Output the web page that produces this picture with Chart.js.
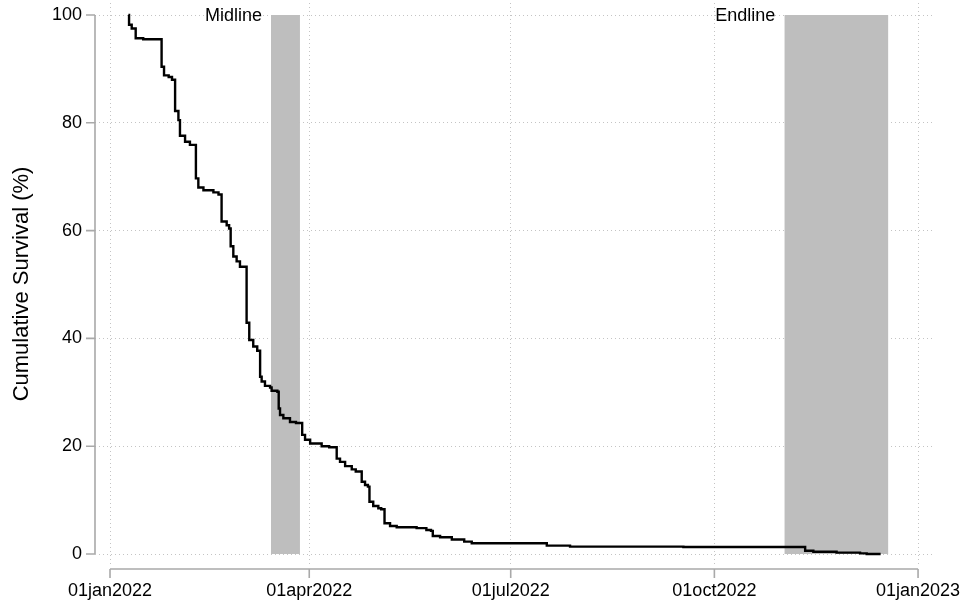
<!DOCTYPE html>
<html>
<head>
<meta charset="utf-8">
<script src="https://cdn.jsdelivr.net/npm/chart.js@4/dist/chart.umd.min.js"></script>
<style>
  html, body { margin: 0; padding: 0; background: #ffffff; }
  #wrap { width: 961px; height: 604px; }
</style>
</head>
<body>
<div id="wrap"><canvas id="c" width="961" height="604"></canvas></div>
<script>
// Kaplan-Meier step curve: days since 01jan2022 and survival (%) after each drop
const days = [
  8.3, 8.6, 9.8, 11.6, 15, 23.3, 24.4, 26.5, 28, 29.4, 30.9, 31.6, 33.9, 36.1,
  38.8, 39.9, 42.2, 46.7, 49, 50.4, 52.7, 53.8, 54.5, 55.7, 57.2, 58.7, 61.7,
  62.9, 64.7, 66.5, 67.8, 68.5, 70.0, 72.3, 73, 75.6, 76.2, 76.8, 78.3, 81.3,
  84, 86.8, 88.1, 90.4, 95.6, 99, 102.4, 103.9, 106.2, 109.2, 111, 113.7,
  115.2, 116.5, 117.2, 118.9, 121.2, 122.5, 124.0, 126.5, 129.5, 138.5, 142.9,
  145, 145.8, 149.1, 154.4, 160, 163.4, 197.3, 207.8, 259, 314, 317.7, 328.2,
  338.8, 341.8, 348.1
];
const survival = [
  100, 98.2, 97.5, 95.7, 95.5, 90.4, 88.8, 88.5, 88.0, 82.2, 80.5, 77.6, 76.5, 75.9,
  69.7, 68.0, 67.5, 67.1, 66.7, 61.7, 61.0, 60.4, 57.1, 55.2, 54.3, 53.3, 42.9,
  39.7, 38.5, 37.7, 32.9, 32.0, 31.2, 30.9, 30.3, 30.1, 27.0, 25.8, 25.2, 24.5,
  24.3, 22.1, 21.2, 20.5, 20.0, 19.8, 17.7, 17.1, 16.3, 15.7, 15.3, 13.4,
  12.8, 12.5, 9.7, 8.9, 8.5, 8.3, 5.7, 5.2, 4.95, 4.8, 4.45,
  4.3, 3.34, 3.1, 2.7, 2.3, 2.0, 1.55, 1.36, 1.3, 0.61, 0.43, 0.25,
  0.12, 0, 0
];

// Axis ticks
const tickDays = [0, 90, 181, 273, 365];
const tickLabels = ['01jan2022', '01apr2022', '01jul2022', '01oct2022', '01jan2023'];
const yTicks = [0, 20, 40, 60, 80, 100];

// Survey rounds (shaded periods, in days since 01jan2022)
const periods = ['Midline', 'Endline'];
const periodStart = [72.7, 304.6];
const periodEnd = [85.8, 351.6];

const FONT = "'Liberation Sans', Arial, Helvetica, sans-serif";
const AXIS_GRAY = '#a9a9a9';

const bandSets = periods.map((name, i) => ({
  label: name,
  data: [{ x: periodStart[i], y: 100 }, { x: periodEnd[i], y: 100 }],
  fill: 'origin',
  backgroundColor: '#bebebe',
  borderWidth: 0,
  pointRadius: 0,
  order: 2
}));

const curveSet = {
  label: 'Survival',
  data: days.map((d, i) => ({ x: d, y: survival[i] })),
  stepped: true,
  borderColor: '#000000',
  borderWidth: 2.4,
  pointRadius: 0,
  fill: false,
  order: 1
};

// Stata-style detached axes, tick marks and period labels
const framePlugin = {
  id: 'frame',
  afterDatasetsDraw(chart) {
    const { ctx, chartArea, scales: { x, y } } = chart;
    ctx.save();
    ctx.strokeStyle = AXIS_GRAY;
    ctx.lineWidth = 1.6;
    ctx.setLineDash([]);

    // y axis
    const ax = chartArea.left;
    ctx.beginPath();
    ctx.moveTo(ax, y.getPixelForValue(0));
    ctx.lineTo(ax, y.getPixelForValue(100));
    yTicks.forEach(v => {
      const py = y.getPixelForValue(v);
      ctx.moveTo(ax - 9, py);
      ctx.lineTo(ax, py);
    });
    ctx.stroke();

    // x axis
    const ay = chartArea.bottom + 4;
    ctx.beginPath();
    ctx.moveTo(x.getPixelForValue(tickDays[0]), ay);
    ctx.lineTo(x.getPixelForValue(tickDays[tickDays.length - 1]), ay);
    tickDays.forEach(v => {
      const px = x.getPixelForValue(v);
      ctx.moveTo(px, ay);
      ctx.lineTo(px, ay + 9);
    });
    ctx.stroke();

    // period labels
    ctx.fillStyle = '#000';
    ctx.font = '18px ' + FONT;
    ctx.textAlign = 'right';
    ctx.textBaseline = 'middle';
    periods.forEach((name, i) => {
      ctx.fillText(name, x.getPixelForValue(periodStart[i]) - 9, y.getPixelForValue(100) + 1);
    });
    ctx.restore();
  }
};

new Chart(document.getElementById('c'), {
  type: 'line',
  data: { datasets: [curveSet, ...bandSets] },
  options: {
    responsive: false,
    animation: false,
    devicePixelRatio: 1,
    layout: { padding: { left: 0, right: 29, top: 3, bottom: 0 } },
    plugins: { legend: { display: false }, tooltip: { enabled: false } },
    scales: {
      x: {
        type: 'linear',
        min: -6.78,
        max: 371.3,
        afterBuildTicks: s => { s.ticks = tickDays.map(v => ({ value: v })); },
        afterFit: s => { s.height = 39; s.paddingLeft = 0; s.paddingRight = 0; },
        grid: { color: '#c4c4c4', lineWidth: 1, drawTicks: false },
        border: { display: false, dash: [1, 3] },
        ticks: {
          autoSkip: false,
          maxRotation: 0,
          padding: 15,
          color: '#000',
          font: { family: FONT, size: 18 },
          callback: v => tickLabels[tickDays.indexOf(v)]
        }
      },
      y: {
        type: 'linear',
        min: -2.04,
        max: 102.23,
        afterBuildTicks: s => { s.ticks = yTicks.map(v => ({ value: v })); },
        afterFit: s => { s.width = 95; s.paddingTop = 0; s.paddingBottom = 0; },
        grid: { color: '#c4c4c4', lineWidth: 1, drawTicks: false },
        border: { display: false, dash: [1, 3] },
        ticks: {
          padding: 13,
          color: '#000',
          font: { family: FONT, size: 18 },
          callback: v => String(v)
        },
        title: {
          display: true,
          text: 'Cumulative Survival (%)',
          color: '#000',
          font: { family: FONT, size: 22 },
          padding: { top: 9, bottom: 0 }
        }
      }
    }
  },
  plugins: [framePlugin]
});
</script>
</body>
</html>
